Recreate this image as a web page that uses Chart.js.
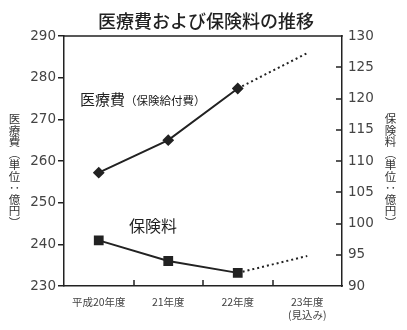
<!DOCTYPE html>
<html>
<head>
<meta charset="utf-8">
<script src="https://cdn.jsdelivr.net/npm/chart.js@4/dist/chart.umd.min.js"></script>
<style>
  body { margin: 0; background: #fff; }
  #wrap { position: relative; width: 407px; height: 330px; font-family: "Noto Sans CJK JP", sans-serif; color: #222; }
  #wrap canvas { position: absolute; left: 0; top: 0; }
  .txt { position: absolute; white-space: nowrap; line-height: 1; }
  .vert { writing-mode: vertical-rl; font-size: 11.5px; color: #333; }
</style>
</head>
<body>
<div id="wrap">
  <canvas id="chart" width="407" height="330"></canvas>
  <div class="txt" style="left:0;width:412px;text-align:center;top:11px;font-size:18px;font-weight:500;">医療費および保険料の推移</div>
  <div class="txt vert" style="left:8px;top:113px;">医療費（単位：億円）</div>
  <div class="txt vert" style="left:384px;top:113px;">保険料（単位：億円）</div>
  <div class="txt" style="left:80px;top:91px;font-size:15px;">医療費<span style="font-size:11.5px;">（保険給付費）</span></div>
  <div class="txt" style="left:129px;top:217px;font-size:16px;">保険料</div>
</div>
<script>
// categories and values
const years = ['平成20年度', '21年度', '22年度', ['23年度', '(見込み)']];
const medicalCost = [257.2, 265.0, 277.4, 285.9];   // left axis
const premiums = [97.3, 94.0, 92.1, 94.8];           // right axis
const leftTicks = { min: 230, max: 290, step: 10 };
const rightTicks = { min: 90, max: 130, step: 5 };

const ink = '#222';
const tickFont = { family: 'DejaVu Sans', size: 13.5 };

// dotted line for the forecast year
const forecastDash = ctx => ctx.p0DataIndex >= 2 ? [2, 3] : undefined;

// inward tick marks and the top edge of the frame
const frame = {
  id: 'frame',
  afterDraw(chart) {
    const { ctx, chartArea } = chart;
    const { left, right, top, bottom } = chartArea;
    ctx.save();
    ctx.strokeStyle = ink;
    ctx.lineWidth = 1.5;
    ctx.beginPath();
    ctx.moveTo(left - 0.75, top);
    ctx.lineTo(right + 0.75, top);
    const xs = chart.scales.x;
    for (let i = 0; i < years.length - 1; i++) {
      const px = Math.round((xs.getPixelForValue(i) + xs.getPixelForValue(i + 1)) / 2);
      ctx.moveTo(px, bottom);
      ctx.lineTo(px, bottom - 6);
    }
    const ys = chart.scales.y1;
    ys.ticks.forEach(t => {
      if (t.value === rightTicks.min || t.value === rightTicks.max) return;
      const py = Math.round(ys.getPixelForValue(t.value));
      ctx.moveTo(right, py);
      ctx.lineTo(right - 6, py);
    });
    ctx.stroke();
    ctx.restore();
  }
};

new Chart(document.getElementById('chart'), {
  type: 'line',
  data: {
    labels: years,
    datasets: [
      {
        label: '医療費',
        data: medicalCost,
        yAxisID: 'y',
        borderColor: ink,
        backgroundColor: ink,
        borderWidth: 2,
        pointStyle: 'rectRot',
        pointRadius: [4.5, 4.5, 4.5, 0],
        tension: 0,
        segment: { borderDash: forecastDash }
      },
      {
        label: '保険料',
        data: premiums,
        yAxisID: 'y1',
        borderColor: ink,
        backgroundColor: ink,
        borderWidth: 2,
        pointStyle: 'rect',
        pointRadius: [5.5, 5.5, 5.5, 0],
        tension: 0,
        segment: { borderDash: forecastDash }
      }
    ]
  },
  options: {
    responsive: false,
    animation: false,
    layout: { padding: { top: 36, left: 0, right: 0, bottom: 0 } },
    plugins: {
      legend: { display: false },
      tooltip: { enabled: false }
    },
    scales: {
      x: {
        offset: true,
        grid: { offset: true, drawOnChartArea: false, drawTicks: false },
        border: { color: ink, width: 1.5 },
        ticks: {
          color: '#444',
          padding: 9,
          font: { family: 'Noto Sans CJK JP', size: 10.5, lineHeight: 1.3 }
        },
        afterFit(scale) { scale.height = 44; }
      },
      y: {
        position: 'left',
        min: leftTicks.min,
        max: leftTicks.max,
        grid: { drawOnChartArea: false, tickLength: 6, color: ink, lineWidth: 1.5 },
        border: { color: ink, width: 1.5 },
        ticks: { stepSize: leftTicks.step, color: '#444', padding: 2, font: tickFont },
        afterFit(scale) { scale.width = 64; }
      },
      y1: {
        position: 'right',
        min: rightTicks.min,
        max: rightTicks.max,
        grid: { drawOnChartArea: false, drawTicks: false },
        border: { color: ink, width: 1.5 },
        ticks: { stepSize: rightTicks.step, color: '#444', padding: 6, font: tickFont },
        afterFit(scale) { scale.width = 65; }
      }
    }
  },
  plugins: [frame]
});
</script>
</body>
</html>
